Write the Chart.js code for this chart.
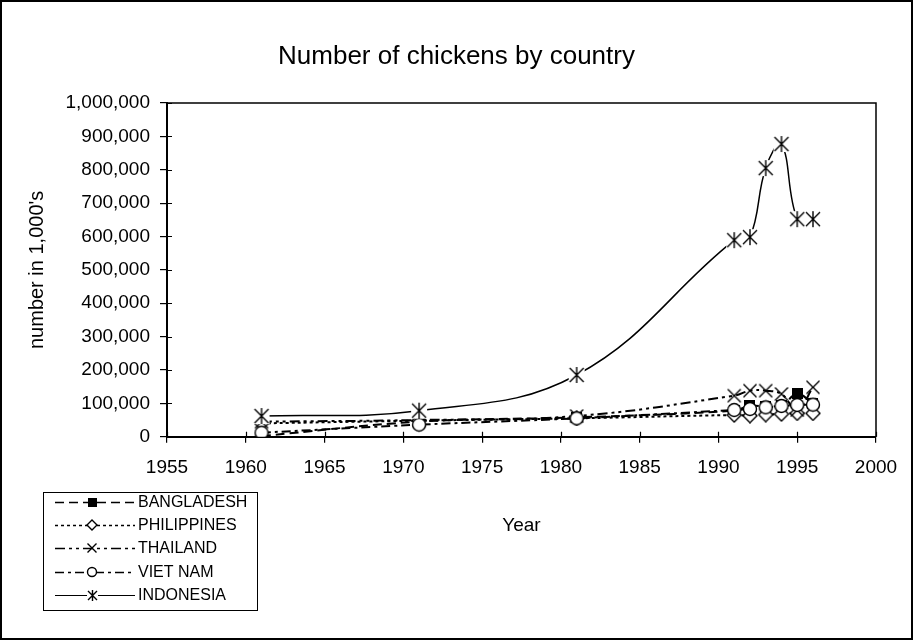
<!DOCTYPE html>
<html>
<head>
<meta charset="utf-8">
<script src="https://cdn.jsdelivr.net/npm/chart.js@4.4.0/dist/chart.umd.min.js"></script>
<style>
  html, body { margin: 0; padding: 0; background: #fff; }
  canvas { display: block; }
</style>
</head>
<body>
<canvas id="chart" width="913" height="640"></canvas>
<script>
// Census years and flock sizes (thousands of birds)
const years = [1961, 1971, 1981, 1991, 1992, 1993, 1994, 1995, 1996];
const bangladesh  = [2000, 45000, 58000, 78000, 93000, 90000, 93000, 128000, 100000];
const philippines = [40000, 48000, 55000, 65000, 63000, 66000, 68000, 70000, 70000];
const thailand    = [45000, 50000, 62000, 123000, 138000, 138000, 128000, 80000, 148000];
const vietnam     = [12000, 36000, 55000, 80000, 83000, 88000, 92000, 95000, 96000];
const indonesia   = [62000, 78000, 185000, 589000, 598000, 805000, 877000, 652000, 652000];

const seriesNames = ['BANGLADESH', 'PHILIPPINES', 'THAILAND', 'VIET NAM', 'INDONESIA'];
const xTickValues = [1955, 1960, 1965, 1970, 1975, 1980, 1985, 1990, 1995, 2000];
const yTickValues = [0, 100000, 200000, 300000, 400000, 500000, 600000, 700000, 800000, 900000, 1000000];
const chartTitle = 'Number of chickens by country';

const FONT = "'Liberation Sans', Arial, Helvetica, sans-serif";

// ---- marker glyphs drawn onto small canvases ----
function glyph(size, draw) {
  const c = document.createElement('canvas');
  c.width = size; c.height = size;
  const g = c.getContext('2d');
  g.strokeStyle = '#000'; g.fillStyle = '#000'; g.lineWidth = 1.4;
  draw(g, size);
  return c;
}
function squareGlyph(s) { return glyph(s, (g, n) => { g.fillRect(0, 0, n, n); }); }
function diamondGlyph(s) {
  return glyph(s, (g, n) => {
    const h = n / 2;
    g.beginPath();
    g.moveTo(h, 1); g.lineTo(n - 1, h); g.lineTo(h, n - 1); g.lineTo(1, h); g.closePath();
    g.fillStyle = '#fff'; g.fill(); g.stroke();
  });
}
function crossGlyph(s) {
  return glyph(s, (g, n) => {
    g.beginPath();
    g.moveTo(1.5, 1.5); g.lineTo(n - 1.5, n - 1.5);
    g.moveTo(n - 1.5, 1.5); g.lineTo(1.5, n - 1.5);
    g.stroke();
  });
}
function circleGlyph(s) {
  return glyph(s, (g, n) => {
    g.beginPath();
    g.arc(n / 2, n / 2, n / 2 - 1.5, 0, Math.PI * 2);
    g.fillStyle = '#fff'; g.fill(); g.stroke();
  });
}
function starGlyph(s) {
  return glyph(s, (g, n) => {
    const h = n / 2;
    g.fillStyle = '#fff';
    g.fillRect(1, 1, n - 2, n - 2);
    g.beginPath();
    g.moveTo(2, 2); g.lineTo(n - 2, n - 2);
    g.moveTo(n - 2, 2); g.lineTo(2, n - 2);
    g.moveTo(h, 1); g.lineTo(h, n - 1);
    g.stroke();
  });
}

// plot markers and the smaller key markers
const plotMarks = [squareGlyph(11), diamondGlyph(16), crossGlyph(16), circleGlyph(16), starGlyph(18)];
const keyMarks  = [squareGlyph(9), diamondGlyph(12), crossGlyph(12), circleGlyph(12), starGlyph(13)];

function pts(values) {
  return years.map((y, i) => ({ x: y, y: values[i] }));
}

const seriesValues = [bangladesh, philippines, thailand, vietnam, indonesia];
const seriesDash = [[9, 5], [3, 3], [10, 4, 3, 4, 3, 4], [9, 4, 3, 4], []];
const seriesWidth = [2, 2, 2, 2, 1.5];

const datasets = seriesNames.map((name, i) => ({
  label: name,
  data: pts(seriesValues[i]),
  borderColor: '#000',
  borderWidth: seriesWidth[i],
  borderDash: seriesDash[i],
  pointStyle: plotMarks[i],
  pointRadius: 7,
  tension: 0.4,
  fill: false,
  order: seriesNames.length - 1 - i   // later series sit on top
}));

// white page, frame and centred heading
const pageFrame = {
  id: 'pageFrame',
  beforeDraw(chart) {
    const { ctx, width, height } = chart;
    ctx.save();
    ctx.fillStyle = '#fff';
    ctx.fillRect(0, 0, width, height);
    ctx.restore();
  },
  afterDraw(chart) {
    const { ctx, width, height } = chart;
    ctx.save();
    ctx.strokeStyle = '#000';
    ctx.lineWidth = 2;
    ctx.strokeRect(1, 1, width - 2, height - 2);
    ctx.fillStyle = '#000';
    ctx.font = "26px " + FONT;
    ctx.textAlign = 'center';
    ctx.textBaseline = 'middle';
    ctx.fillText(chartTitle, width / 2, 57);
    ctx.restore();
  }
};

// plot-area box plus tick marks that cross the axes
const plotBox = {
  id: 'plotBox',
  afterDatasetsDraw(chart) {
    const { ctx, chartArea: a, scales } = chart;
    ctx.save();
    ctx.strokeStyle = '#000';
    ctx.lineWidth = 1.5;
    ctx.beginPath();
    ctx.moveTo(a.left, a.top); ctx.lineTo(a.right, a.top); ctx.lineTo(a.right, a.bottom);
    ctx.stroke();
    ctx.lineWidth = 1.2;
    ctx.beginPath();
    scales.x.ticks.forEach(t => {
      const px = Math.round(scales.x.getPixelForValue(t.value)) + 0.5;
      ctx.moveTo(px, a.bottom); ctx.lineTo(px, a.bottom - 5);
    });
    scales.y.ticks.forEach(t => {
      const py = Math.round(scales.y.getPixelForValue(t.value)) + 0.5;
      ctx.moveTo(a.left, py); ctx.lineTo(a.left + 5, py);
    });
    ctx.stroke();
    ctx.restore();
  }
};

// boxed key with line style and marker for each series
const keyBox = {
  id: 'keyBox',
  afterDraw(chart) {
    const { ctx } = chart;
    const box = { x: 43, y: 492, w: 214, h: 118 };
    const rowY = [502, 525, 548, 572, 595];
    ctx.save();
    ctx.strokeStyle = '#000';
    ctx.lineWidth = 1;
    ctx.strokeRect(box.x + 0.5, box.y + 0.5, box.w, box.h);
    ctx.font = "16px " + FONT;
    ctx.fillStyle = '#000';
    ctx.textBaseline = 'middle';
    chart.data.datasets.forEach((ds, i) => {
      const y = rowY[i] + 0.5;
      ctx.beginPath();
      ctx.setLineDash(ds.borderDash);
      ctx.lineWidth = i === 4 ? 1.2 : 1.6;
      ctx.moveTo(55, y); ctx.lineTo(135, y);
      ctx.stroke();
      ctx.setLineDash([]);
      const m = keyMarks[i];
      ctx.drawImage(m, Math.round(92 - m.width / 2), Math.round(rowY[i] - m.height / 2));
      ctx.fillText(ds.label, 138, rowY[i] + 1);
    });
    ctx.restore();
  }
};

new Chart(document.getElementById('chart'), {
  type: 'line',
  data: { datasets },
  plugins: [pageFrame, plotBox, keyBox],
  options: {
    responsive: false,
    animation: false,
    devicePixelRatio: 1,
    layout: { padding: { left: 12, right: 37, top: 103, bottom: 0 } },
    plugins: {
      legend: { display: false },
      tooltip: { enabled: false },
      title: { display: false }
    },
    scales: {
      x: {
        type: 'linear',
        min: 1955,
        max: 2000,
        afterBuildTicks(scale) { scale.ticks = xTickValues.map(v => ({ value: v })); },
        afterFit(scale) { scale.height = 203.3; },
        ticks: {
          color: '#000',
          font: { family: FONT, size: 19 },
          padding: 14,
          maxRotation: 0,
          autoSkip: false,
          callback: v => String(v)
        },
        grid: { drawOnChartArea: false, tickLength: 6, color: '#000', lineWidth: 1.2 },
        border: { color: '#000', width: 2 },
        title: {
          display: true,
          text: 'Year',
          color: '#000',
          font: { family: FONT, size: 19 },
          padding: { top: 0, bottom: 103 }
        }
      },
      y: {
        type: 'linear',
        min: 0,
        max: 1000000,
        afterBuildTicks(scale) { scale.ticks = yTickValues.map(v => ({ value: v })); },
        afterFit(scale) { scale.width = 155; },
        ticks: {
          color: '#000',
          font: { family: FONT, size: 19 },
          padding: 10,
          autoSkip: false,
          callback: v => v.toLocaleString('en-US')
        },
        grid: { drawOnChartArea: false, tickLength: 7, color: '#000', lineWidth: 1.2 },
        border: { color: '#000', width: 2 },
        title: {
          display: true,
          text: "number in 1,000's",
          color: '#000',
          font: { family: FONT, size: 20 },
          padding: { top: 13, bottom: 0 }
        }
      }
    }
  }
});
</script>
</body>
</html>
